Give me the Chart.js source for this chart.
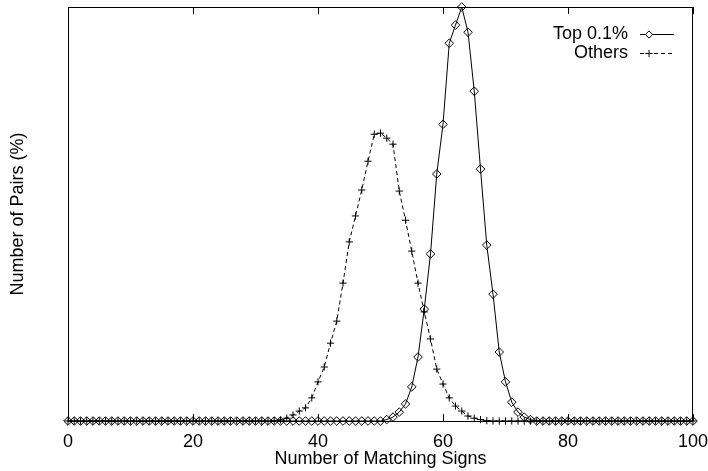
<!DOCTYPE html>
<html>
<head>
<meta charset="utf-8">
<script src="https://cdn.jsdelivr.net/npm/chart.js@4.4.1/dist/chart.umd.min.js"></script>
<style>
	body { margin: 0; background: #fff; }
	canvas { display: block; }
</style>
</head>
<body>
<canvas id="grafico" width="708" height="471"></canvas>
<script>
// number of matching signs (x categories)
const sinais = [
	0, 1, 2, 3, 4, 5, 6, 7, 8, 9, 10, 11, 12, 13, 14, 15, 16, 17, 18, 19,
	20, 21, 22, 23, 24, 25, 26, 27, 28, 29, 30, 31, 32, 33, 34, 35, 36, 37, 38, 39,
	40, 41, 42, 43, 44, 45, 46, 47, 48, 49, 50, 51, 52, 53, 54, 55, 56, 57, 58, 59,
	60, 61, 62, 63, 64, 65, 66, 67, 68, 69, 70, 71, 72, 73, 74, 75, 76, 77, 78, 79,
	80, 81, 82, 83, 84, 85, 86, 87, 88, 89, 90, 91, 92, 93, 94, 95, 96, 97, 98, 99, 100
];

// % of pairs, top 0.1%
const top01 = [
	0, 0, 0, 0, 0, 0, 0, 0, 0, 0, 0, 0, 0, 0, 0, 0, 0, 0, 0, 0,
	0, 0, 0, 0, 0, 0, 0, 0, 0, 0, 0, 0, 0, 0, 0, 0, 0, 0, 0, 0,
	0, 0, 0, 0, 0, 0, 0, 0, 0, 0, 0, 0.04, 0.11, 0.25, 0.48, 0.96, 1.80, 3.15, 4.70, 6.95,
	8.35, 10.63, 11.14, 11.65, 10.94, 9.28, 7.09, 4.95, 3.57, 1.94, 1.10, 0.53, 0.25, 0.11, 0.04, 0, 0, 0, 0, 0,
	0, 0, 0, 0, 0, 0, 0, 0, 0, 0, 0, 0, 0, 0, 0, 0, 0, 0, 0, 0, 0
];

// % of pairs, others
const outros = [
	0, 0, 0, 0, 0, 0, 0, 0, 0, 0, 0, 0, 0, 0, 0, 0, 0, 0, 0, 0,
	0, 0, 0, 0, 0, 0, 0, 0, 0, 0, 0, 0, 0, 0.01, 0.03, 0.08, 0.17, 0.28, 0.37, 0.65,
	1.10, 1.52, 2.19, 2.81, 3.88, 5.04, 5.77, 6.50, 7.31, 8.07, 8.10, 7.96, 7.79, 6.47, 5.65, 4.78, 3.88, 3.07, 2.31, 1.46,
	1.04, 0.65, 0.42, 0.28, 0.14, 0.08, 0.04, 0.01, 0, 0, 0, 0, 0, 0, 0, 0, 0, 0, 0, 0,
	0, 0, 0, 0, 0, 0, 0, 0, 0, 0, 0, 0, 0, 0, 0, 0, 0, 0, 0, 0, 0
];

const xTicks = [0, 20, 40, 60, 80, 100];
const legendas = ['Top 0.1%', 'Others'];

const fonte = '"Liberation Sans", Arial, Helvetica, sans-serif';

// frame, inward ticks and gnuplot style key
const moldura = {
	id: 'moldura',
	beforeDatasetsDraw(chart) {
		const ctx = chart.ctx;
		const a = chart.chartArea;
		const x = chart.scales.x;
		ctx.save();
		ctx.strokeStyle = '#000';
		ctx.lineWidth = 1;
		ctx.strokeRect(a.left + 0.5, a.top + 0.5, a.right - a.left - 1, a.bottom - a.top);
		ctx.beginPath();
		xTicks.forEach(t => {
			const px = Math.round(x.getPixelForValue(t)) + 0.5;
			ctx.moveTo(px, a.bottom);
			ctx.lineTo(px, a.bottom - 7);
			ctx.moveTo(px, a.top);
			ctx.lineTo(px, a.top + 7);
		});
		ctx.stroke();
		ctx.restore();
	},
	afterDraw(chart) {
		const ctx = chart.ctx;
		ctx.save();
		ctx.font = '18px ' + fonte;
		ctx.textAlign = 'right';
		ctx.textBaseline = 'middle';
		chart.data.datasets.forEach((ds, i) => {
			const y = Math.round(34 + i * 18.5) + 0.5;
			ctx.fillStyle = '#000';
			ctx.fillText(legendas[i], 628, y);
			ctx.strokeStyle = '#000';
			ctx.lineWidth = 1;
			ctx.setLineDash(ds.borderDash || []);
			ctx.beginPath();
			ctx.moveTo(640, y);
			ctx.lineTo(674, y);
			ctx.stroke();
			ctx.setLineDash([]);
			ctx.fillStyle = '#fff';
			Chart.helpers.drawPoint(ctx, {
				pointStyle: ds.pointStyle,
				radius: 3.6,
				borderWidth: 1
			}, 649, y);
		});
		ctx.restore();
	}
};

new Chart(document.getElementById('grafico'), {
	type: 'line',
	data: {
		datasets: [{
			label: legendas[0],
			data: sinais.map((s, i) => ({ x: s, y: top01[i] })),
			borderColor: '#000',
			backgroundColor: 'rgba(0,0,0,0)',
			borderWidth: 1,
			pointStyle: 'rectRot',
			pointRadius: 4.3,
			pointBorderWidth: 1,
			pointBorderColor: '#000',
			pointBackgroundColor: 'rgba(0,0,0,0)',
			tension: 0,
			clip: false,
			order: 1
		}, {
			label: legendas[1],
			data: sinais.map((s, i) => ({ x: s, y: outros[i] })),
			borderColor: '#000',
			backgroundColor: 'rgba(0,0,0,0)',
			borderWidth: 1,
			borderDash: [4, 3],
			pointStyle: 'cross',
			pointRadius: 3.6,
			pointBorderWidth: 1,
			pointBorderColor: '#000',
			tension: 0,
			clip: false,
			order: 0
		}]
	},
	options: {
		responsive: false,
		devicePixelRatio: 1,
		animation: false,
		layout: { padding: { top: 7, right: 15, left: 0, bottom: 0 } },
		plugins: {
			legend: { display: false },
			tooltip: { enabled: false }
		},
		scales: {
			x: {
				type: 'linear',
				min: 0,
				max: 100,
				afterFit: (s) => { s.height = 50; s.paddingLeft = 0; s.paddingRight = 0; },
				afterBuildTicks: (s) => { s.ticks = xTicks.map(v => ({ value: v })); },
				grid: { display: false, drawTicks: false },
				border: { display: false },
				ticks: {
					padding: 10,
					color: '#000',
					font: { family: fonte, size: 18 },
					maxRotation: 0
				},
				title: {
					display: true,
					text: 'Number of Matching Signs',
					color: '#000',
					font: { family: fonte, size: 18 },
					padding: { top: 0, bottom: 1 }
				}
			},
			y: {
				min: 0,
				max: 11.65,
				afterFit: (s) => { s.width = 68; },
				grid: { display: false, drawTicks: false },
				border: { display: false },
				ticks: { display: false },
				title: {
					display: true,
					text: 'Number of Pairs (%)',
					color: '#000',
					font: { family: fonte, size: 18 },
					padding: { top: 7, bottom: 0 }
				}
			}
		}
	},
	plugins: [moldura]
});
</script>
</body>
</html>
